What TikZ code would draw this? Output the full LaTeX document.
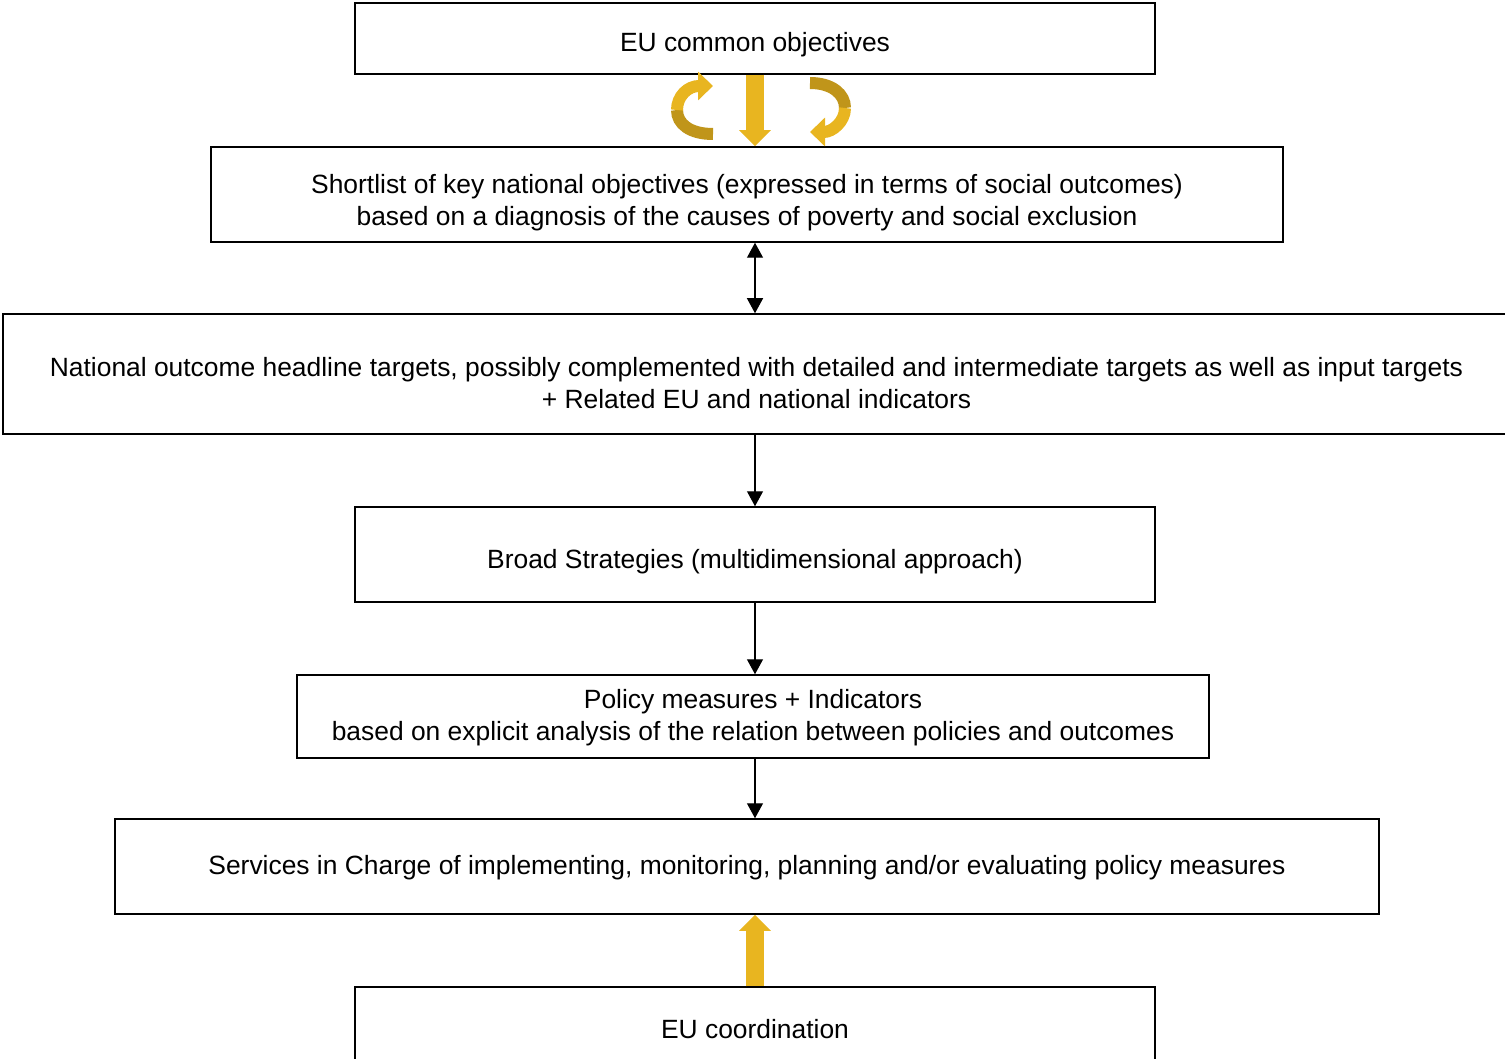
\documentclass[tikz,border=0pt]{standalone}
\usepackage{fontspec}
\setmainfont{Liberation Sans}
\usetikzlibrary{arrows.meta}
\definecolor{gold}{HTML}{E8B520}
\definecolor{darkgold}{HTML}{C0951A}
\begin{document}
\begin{tikzpicture}[x=1pt, y=-1pt,
    box/.style={draw, line width=1.5pt, inner sep=0pt},
    txt/.style={align=center, inner sep=0pt, font=\fontsize{26.4}{31.5}\selectfont},
    link/.style={{Triangle[length=15pt,width=16pt]}-{Triangle[length=15pt,width=16pt]}, line width=1.3pt},
    onelink/.style={-{Triangle[length=15pt,width=16pt]}, line width=1.3pt},
    goldarrow/.style={gold, line width=18pt, -{Triangle[length=16pt,width=31pt]}},
    ribbon/.style={line width=12pt}]
  \useasboundingbox (0,0) rectangle (1505,1059);
  \node [box, minimum width=800pt, minimum height=71pt] (obj) at (755,38.5) {};
  \node [box, minimum width=1072pt, minimum height=95pt] (short) at (747,194.5) {};
  \node [box, minimum width=1507pt, minimum height=120pt] (nat) at (756.5,374) {};
  \node [box, minimum width=800pt, minimum height=95pt] (broad) at (755,554.5) {};
  \node [box, minimum width=912pt, minimum height=83pt] (pol) at (753,716.5) {};
  \node [box, minimum width=1264pt, minimum height=95pt] (serv) at (747,866.5) {};
  \node [box, minimum width=800pt, minimum height=78pt] (coord) at (755,1026) {};
  % texts
  \node [txt] (objtxt) at ([yshift=-6pt]obj.center) {EU common objectives};
  \node [txt] (shorttxt) at ([yshift=-8pt]short.center)
    {Shortlist of key national objectives (expressed in terms of social outcomes)\\
     based on a diagnosis of the causes of poverty and social exclusion};
  \node [txt] (nattxt) at ([yshift=-9pt]nat.center)
    {National outcome headline targets, possibly complemented with detailed and intermediate targets as well as input targets\\
     + Related EU and national indicators};
  \node [txt] (broadtxt) at ([yshift=-7pt]broad.center) {Broad Strategies (multidimensional approach)};
  \node [txt] (poltxt) at ([yshift=-1pt]pol.center)
    {Policy measures + Indicators\\
     based on explicit analysis of the relation between policies and outcomes};
  \node [txt] (servtxt) at ([yshift=-1pt]serv.center)
    {Services in Charge of implementing, monitoring, planning and/or evaluating policy measures};
  \node [txt] (coordtxt) at ([yshift=-3pt]coord.center) {EU coordination};
  % gold arrows between objectives and shortlist
  \draw[goldarrow] (obj.south) -- (obj.south |- short.north);
  \coordinate (lbot) at (713,134);
  \coordinate (lmid) at (677,110);
  \coordinate (ltop) at (713,86);
  \coordinate (rtop) at (810,83);
  \coordinate (rmid) at (845,108);
  \coordinate (rbot) at (810,132);
  \draw[ribbon, darkgold] (lbot) .. controls (690,134) and (677,124) .. (lmid);
  \draw[ribbon, gold, -{Triangle[length=15pt,width=28pt]}] (lmid) .. controls (677,96) and (688,86) .. (ltop);
  \draw[ribbon, darkgold] (rtop) .. controls (832,83) and (845,94) .. (rmid);
  \draw[ribbon, gold, -{Triangle[length=15pt,width=28pt]}] (rmid) .. controls (845,122) and (832,132) .. (rbot);
  % black connectors
  \draw[link] (obj.south |- short.south) -- (obj.south |- nat.north);
  \draw[onelink] (broad.north |- nat.south) -- (broad.north);
  \draw[onelink] (broad.south) -- (broad.south |- pol.north);
  \draw[onelink] (broad.south |- pol.south) -- (broad.south |- serv.north);
  % coordination
  \draw[goldarrow] (coord.north) -- (coord.north |- serv.south);
\end{tikzpicture}
\end{document}
